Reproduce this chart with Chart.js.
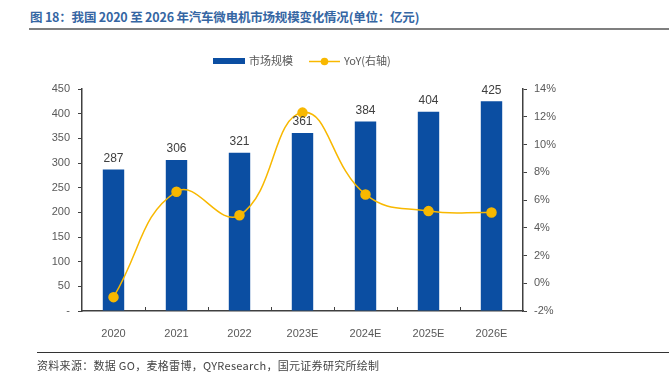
<!DOCTYPE html>
<html>
<head>
<meta charset="utf-8">
<script src="https://cdn.jsdelivr.net/npm/chart.js@4/dist/chart.umd.min.js"></script>
<style>
html,body{margin:0;padding:0;background:#fff;}
#wrap{position:relative;width:669px;height:380px;overflow:hidden;}
#title{position:absolute;left:30px;top:7px;font-family:"Noto Sans CJK SC","Noto Sans",sans-serif;font-weight:bold;font-size:12.5px;color:#3566a3;white-space:nowrap;letter-spacing:-0.2px;}
#tline{position:absolute;left:29px;right:0;top:28px;height:2px;background:#7f7f7f;}
#fline{position:absolute;left:37px;right:0;top:352px;height:1px;background:#333;}
#foot{position:absolute;left:37px;top:357px;font-family:"Noto Sans CJK SC",sans-serif;font-size:11px;color:#444;white-space:nowrap;letter-spacing:0.3px;}
canvas{position:absolute;left:0;top:0;}
</style>
</head>
<body>
<div id="wrap">
<div id="title">图 18：我国 2020 至 2026 年汽车微电机市场规模变化情况(单位：亿元)</div>
<div id="tline"></div>
<canvas id="c" width="669" height="380"></canvas>
<div id="fline"></div>
<div id="foot">资料来源：数据 GO，麦格雷博，QYResearch，国元证券研究所绘制</div>
</div>
<script>
const categories = ["2020","2021","2022","2023E","2024E","2025E","2026E"];
const marketSize = [287,306,321,361,384,404,425];
const yoy = [-1.0,6.6,4.9,12.3,6.4,5.2,5.1];
const leftTicks = [0,50,100,150,200,250,300,350,400,450];
const rightTicks = [-2,0,2,4,6,8,10,12,14];
const barLabel = "市场规模";
const lineLabel = "YoY(右轴)";

const BLUE = "#0b4ea2";
const GOLD = "#f8b800";
const TICKC = "#595959";
const FONT = "'Liberation Sans', Arial, sans-serif";

const customPlugin = {
  id: 'custom',
  afterDatasetsDraw(chart) {
    const ctx = chart.ctx;
    const meta = chart.getDatasetMeta(1);
    ctx.save();
    ctx.font = "12px " + FONT;
    ctx.fillStyle = "#404040";
    ctx.textAlign = "center";
    ctx.textBaseline = "bottom";
    meta.data.forEach((bar, i) => {
      ctx.fillText(String(marketSize[i]), bar.x, bar.y - 5);
    });
    ctx.restore();
  },
  afterDraw(chart) {
    const ctx = chart.ctx;
    const xs = chart.scales.x;
    const area = chart.chartArea;
    ctx.save();
    ctx.strokeStyle = "#404040";
    ctx.lineWidth = 1;
    for (let i = 1; i < categories.length; i++) {
      const x = Math.round((xs.getPixelForValue(i - 1) + xs.getPixelForValue(i)) / 2) + 0.5;
      ctx.beginPath();
      ctx.moveTo(x, area.bottom);
      ctx.lineTo(x, area.bottom - 4);
      ctx.stroke();
    }
    ctx.restore();
    ctx.save();
    const ly = 61;
    ctx.fillStyle = BLUE;
    ctx.fillRect(213, ly - 3, 32, 6);
    ctx.font = "11px 'Noto Sans CJK SC', sans-serif";
    ctx.fillStyle = TICKC;
    ctx.textBaseline = "middle";
    ctx.textAlign = "left";
    ctx.fillText(barLabel, 249, ly);
    ctx.strokeStyle = GOLD;
    ctx.lineWidth = 1.5;
    ctx.beginPath();
    ctx.moveTo(309, ly + 0.5);
    ctx.lineTo(340, ly + 0.5);
    ctx.stroke();
    ctx.fillStyle = GOLD;
    ctx.beginPath();
    ctx.arc(324.5, ly + 0.5, 3.8, 0, Math.PI * 2);
    ctx.fill();
    ctx.fillStyle = TICKC;
    ctx.fillText(lineLabel, 344, ly);
    ctx.restore();
  }
};

new Chart(document.getElementById('c'), {
  data: {
    labels: categories,
    datasets: [
      {
        type: 'line',
        label: lineLabel,
        data: yoy,
        yAxisID: 'y1',
        borderColor: GOLD,
        backgroundColor: GOLD,
        borderWidth: 1.5,
        pointRadius: 4.5,
        pointHoverRadius: 4.5,
        pointBackgroundColor: GOLD,
        pointBorderColor: GOLD,
        tension: 0.45,
        order: 0
      },
      {
        type: 'bar',
        label: barLabel,
        data: marketSize,
        yAxisID: 'y',
        backgroundColor: BLUE,
        borderWidth: 0,
        barPercentage: 0.34,
        categoryPercentage: 1.0,
        order: 1
      }
    ]
  },
  options: {
    responsive: false,
    animation: false,
    layout: { padding: { left: 38, right: 96, top: 89, bottom: 39 } },
    plugins: { legend: { display: false }, tooltip: { enabled: false } },
    scales: {
      x: {
        type: 'category',
        offset: true,
        grid: { display: false },
        border: { display: true, color: "#404040", width: 1.5 },
        ticks: { color: TICKC, font: { family: FONT, size: 11 }, padding: 8, maxRotation: 0 },
        afterFit(s) { s.height = 30; }
      },
      y: {
        position: 'left',
        min: 0, max: 450,
        afterBuildTicks(s) { s.ticks = leftTicks.map(v => ({ value: v })); },
        grid: { drawOnChartArea: false, drawTicks: true, tickLength: 4, color: "#404040", lineWidth: 1 },
        border: { display: true, color: "#404040", width: 1.5 },
        ticks: {
          color: TICKC, font: { family: FONT, size: 11 }, padding: 8,
          callback: v => v === 0 ? "-" : String(v)
        },
        afterFit(s) { s.width = 44; }
      },
      y1: {
        position: 'right',
        min: -2, max: 14,
        afterBuildTicks(s) { s.ticks = rightTicks.map(v => ({ value: v })); },
        grid: { drawOnChartArea: false, drawTicks: true, tickLength: 4, color: "#404040", lineWidth: 1 },
        border: { display: true, color: "#404040", width: 1.5 },
        ticks: {
          color: TICKC, font: { family: FONT, size: 11 }, padding: 7,
          callback: v => v + "%"
        },
        afterFit(s) { s.width = 50; }
      }
    }
  },
  plugins: [customPlugin]
});
</script>
</body>
</html>
